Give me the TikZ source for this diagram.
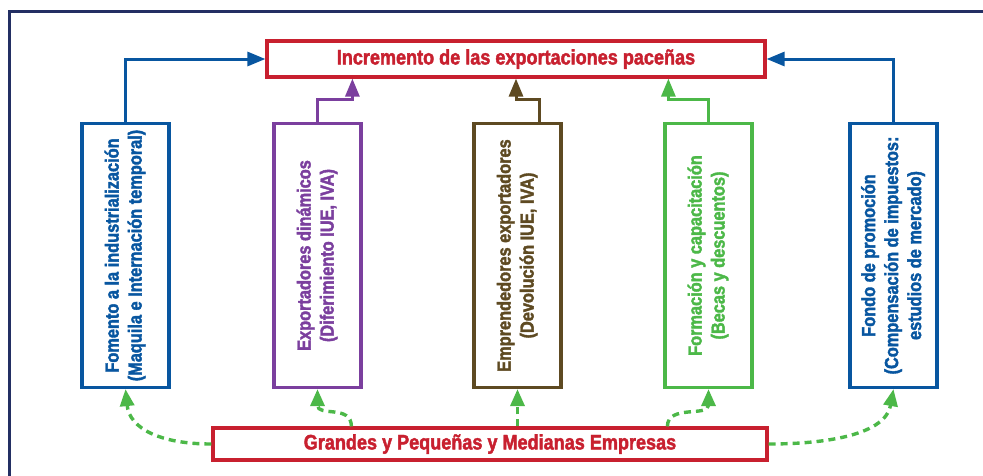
\documentclass[tikz,border=0pt]{standalone}
\usepackage{fontspec}
\setmainfont{Liberation Sans}[FakeStretch=0.86,BoldFeatures={FakeBold=2}]
\usepackage{graphicx}
\usetikzlibrary{arrows.meta,calc,positioning}
\definecolor{framenavy}{RGB}{35,47,99}
\definecolor{incred}{RGB}{200,32,47}
\definecolor{polblue}{RGB}{8,86,160}
\definecolor{polpurple}{RGB}{123,63,158}
\definecolor{polbrown}{RGB}{94,74,34}
\definecolor{polgreen}{RGB}{76,184,72}
\newcommand{\vlabel}[1]{\rotatebox{90}{\begin{tabular}{@{}c@{}}#1\end{tabular}}}

\begin{document}
\begin{tikzpicture}[x=1pt,y=-1pt,
  hbox/.style={draw=incred,line width=3.2pt,text=incred,inner sep=0pt,
    font=\fontsize{21}{24}\selectfont\bfseries},
  vbox/.style={draw=#1,line width=3.2pt,text=#1,inner sep=0pt,
    minimum width=87pt,minimum height=264pt,font=\fontsize{19}{23}\selectfont\bfseries},
  lift/.style={#1,line width=3pt,-{Triangle[length=18pt,width=14pt]}},
  feed/.style={polgreen,line width=3.4pt,dash pattern=on 7pt off 5pt,
    -{Triangle[length=17pt,width=14pt]}}]
\useasboundingbox (0,0) rectangle (983,475);
\clip (0,0) rectangle (983,475);
% outer frame, cut by the page
\draw[framenavy,line width=3pt] (9.5,490) |- (995,11.5);
% target box
\node[hbox,minimum width=498pt,minimum height=36pt] (inc) at (516,59)
  {Incremento de las exportaciones paceñas};
% the five instruments
\node[vbox=polblue] (fom) at (125.5,255.5)
  {\vlabel{Fomento a la industrialización\\(Maquila e Internación temporal)}};
\node[vbox=polpurple] (exd) at (317.5,255.5)
  {\vlabel{Exportadores dinámicos\\(Diferimiento IUE, IVA)}};
\node[vbox=polbrown] (eme) at (517.5,255.5)
  {\vlabel{Emprendedores exportadores\\(Devolución IUE, IVA)}};
\node[vbox=polgreen] (for) at (708.5,255.5)
  {\vlabel{Formación y capacitación\\(Becas y descuentos)}};
\node[vbox=polblue] (fon) at (893.5,255.5)
  {\vlabel{Fondo de promoción\\(Compensación de impuestos:\\estudios de mercado)}};
% firms
\node[hbox,minimum width=554pt,minimum height=32pt] (emp) at (490,444)
  {Grandes y Pequeñas y Medianas Empresas};
% links up to the target
\draw[lift=polblue] (fom.north) |- (inc.west);
\draw[lift=polblue] (fon.north) |- (inc.east);
\draw[lift=polpurple] (exd.north) -- ++(0,-22) -| ($(inc.south west)+(87,0)$);
\draw[lift=polbrown] ($(eme.north)+(21.5,0)$) -- ++(0,-22) -| (inc.south);
\draw[lift=polgreen] (for.north) -- ++(0,-22) -| ($(inc.south west)+(403,0)$);
% dashed links from the firms
\draw[feed] (emp.west) .. controls +(-50,0) and +(4,40) .. (fom.south);
\draw[feed] ([xshift=140pt]emp.north west) .. controls +(0,-22) and +(0,28) .. (exd.south);
\draw[feed] (emp.north -| eme.south) -- (eme.south);
\draw[feed] ([xshift=456pt]emp.north west) .. controls +(0,-22) and +(0,28) .. (for.south);
\draw[feed] (emp.east) .. controls +(60,0) and +(-8,45) .. (fon.south);
\end{tikzpicture}
\end{document}
